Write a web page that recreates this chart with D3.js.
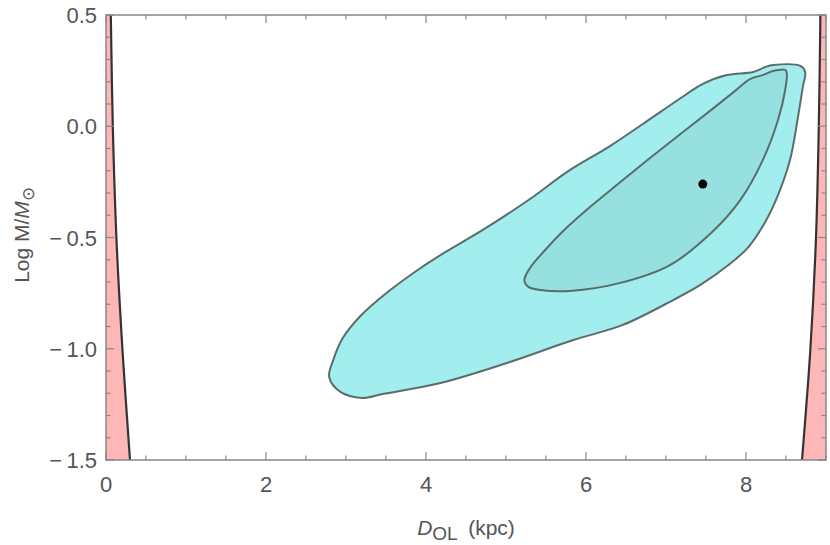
<!DOCTYPE html>
<html>
<head>
<meta charset="utf-8">
<script src="https://cdn.jsdelivr.net/npm/d3@7"></script>
<style>
  body { margin: 0; background: #fff; }
  text { font-family: "Liberation Sans", Arial, sans-serif; fill: #555; }
</style>
</head>
<body>
<svg id="chart" width="830" height="545"></svg>
<script>
// data
// excluded regions (pink): boundary D_OL at given log M
const edgeLogM   = [0.5, 0.0, -0.5, -1.0, -1.5];
const leftEdgeD  = [0.06, 0.085, 0.13, 0.205, 0.30];
const rightEdgeD = [8.93, 8.91, 8.875, 8.805, 8.70];

// outer (2 sigma) contour
const outerD    = [2.79, 2.84, 2.96, 3.18, 3.49, 3.86, 4.18, 4.71, 5.30, 5.76, 6.30, 6.71, 7.26, 7.46, 7.76, 8.09, 8.24, 8.34, 8.68, 8.74, 8.71, 8.65, 8.55, 8.40, 8.24, 8.03, 7.78, 7.43, 7.09, 6.46, 5.84, 5.01, 4.18, 3.46, 3.20, 2.93];
const outerLogM = [-1.127, -1.051, -0.952, -0.853, -0.754, -0.655, -0.579, -0.466, -0.327, -0.206, -0.089, 0.010, 0.145, 0.190, 0.230, 0.244, 0.266, 0.275, 0.271, 0.244, 0.176, 0.042, -0.152, -0.309, -0.430, -0.543, -0.624, -0.713, -0.781, -0.893, -0.961, -1.064, -1.154, -1.203, -1.221, -1.194];

// inner (1 sigma) contour
const innerD    = [5.23, 5.30, 5.49, 5.74, 6.05, 6.43, 6.80, 7.18, 7.55, 7.86, 8.05, 8.21, 8.34, 8.49, 8.51, 8.49, 8.40, 8.21, 7.93, 7.59, 7.05, 6.43, 5.80, 5.43, 5.28];
const innerLogM = [-0.691, -0.637, -0.556, -0.462, -0.363, -0.251, -0.143, -0.035, 0.069, 0.158, 0.212, 0.230, 0.248, 0.253, 0.239, 0.163, 0.028, -0.152, -0.331, -0.471, -0.624, -0.704, -0.740, -0.736, -0.722];

// best fit
const bestD = 7.46;
const bestLogM = -0.26;

const xTicks = [0, 2, 4, 6, 8];
const yTicks = [-1.5, -1.0, -0.5, 0.0, 0.5];

const svg = d3.select('#chart');
const margin = {left: 106, right: 4, top: 15, bottom: 85};
const W = 830, H = 545;

const x = d3.scaleLinear().domain([0, 9]).range([margin.left, W - margin.right]);
const y = d3.scaleLinear().domain([-1.5, 0.5]).range([H - margin.bottom, margin.top]);

svg.append('clipPath').attr('id', 'plotclip')
  .append('rect')
  .attr('x', x(0)).attr('y', y(0.5))
  .attr('width', x(9) - x(0)).attr('height', y(-1.5) - y(0.5));

const plot = svg.append('g').attr('clip-path', 'url(#plotclip)');

// pink excluded regions
const leftPts = leftEdgeD.map((d, i) => ({D: d, m: edgeLogM[i]}));
const rightPts = rightEdgeD.map((d, i) => ({D: d, m: edgeLogM[i]}));

plot.append('path')
  .datum(leftPts)
  .attr('fill', '#ffb6b6')
  .attr('d', d3.area().curve(d3.curveCatmullRom)
    .y(d => y(d.m)).x0(x(0) - 2).x1(d => x(d.D)));
plot.append('path')
  .datum(rightPts)
  .attr('fill', '#ffb6b6')
  .attr('d', d3.area().curve(d3.curveCatmullRom)
    .y(d => y(d.m)).x0(d => x(d.D)).x1(x(9) + 2));

const edgeLine = d3.line().curve(d3.curveCatmullRom).x(d => x(d.D)).y(d => y(d.m));
[leftPts, rightPts].forEach(pts => {
  plot.append('path')
    .datum(pts)
    .attr('fill', 'none')
    .attr('stroke', '#333')
    .attr('stroke-width', 2.2)
    .attr('d', edgeLine);
});

// contours
const contour = d3.line().curve(d3.curveCatmullRomClosed.alpha(0.5))
  .x(d => x(d.D)).y(d => y(d.m));

const outerPts = outerD.map((d, i) => ({D: d, m: outerLogM[i]}));
const innerPts = innerD.map((d, i) => ({D: d, m: innerLogM[i]}));

plot.append('path')
  .datum(outerPts)
  .attr('fill', '#a2eeee')
  .attr('stroke', '#5b6c6c')
  .attr('stroke-width', 2)
  .attr('stroke-linejoin', 'round')
  .attr('d', contour);

plot.append('path')
  .datum(innerPts)
  .attr('fill', '#96e0e0')
  .attr('stroke', '#5b6c6c')
  .attr('stroke-width', 2)
  .attr('stroke-linejoin', 'round')
  .attr('d', contour);

plot.append('circle')
  .attr('cx', x(bestD)).attr('cy', y(bestLogM))
  .attr('r', 4.5)
  .attr('fill', '#000');

// frame and ticks
const axisColor = '#888';
const frame = svg.append('g');
frame.append('rect')
  .attr('x', x(0)).attr('y', y(0.5))
  .attr('width', x(9) - x(0)).attr('height', y(-1.5) - y(0.5))
  .attr('fill', 'none').attr('stroke', axisColor).attr('stroke-width', 1.5);

const xMinor = d3.range(0, 9.001, 0.5);
const yMinor = d3.range(-1.5, 0.5001, 0.1);

xMinor.forEach(v => {
  const major = xTicks.some(t => Math.abs(t - v) < 1e-6);
  const len = major ? 8 : 4.5;
  frame.append('line').attr('x1', x(v)).attr('x2', x(v))
    .attr('y1', y(-1.5)).attr('y2', y(-1.5) - len)
    .attr('stroke', axisColor).attr('stroke-width', 1.2);
  frame.append('line').attr('x1', x(v)).attr('x2', x(v))
    .attr('y1', y(0.5)).attr('y2', y(0.5) + len)
    .attr('stroke', axisColor).attr('stroke-width', 1.2);
});
yMinor.forEach(v => {
  const major = yTicks.some(t => Math.abs(t - v) < 1e-6);
  const len = major ? 8 : 4.5;
  frame.append('line').attr('y1', y(v)).attr('y2', y(v))
    .attr('x1', x(0)).attr('x2', x(0) + len)
    .attr('stroke', axisColor).attr('stroke-width', 1.2);
  frame.append('line').attr('y1', y(v)).attr('y2', y(v))
    .attr('x1', x(9)).attr('x2', x(9) - len)
    .attr('stroke', axisColor).attr('stroke-width', 1.2);
});

// tick labels
svg.append('g').selectAll('text').data(xTicks).join('text')
  .attr('x', d => x(d)).attr('y', 492)
  .attr('text-anchor', 'middle')
  .style('font-size', '22px')
  .text(d => d3.format('d')(d));

svg.append('g').selectAll('text').data(yTicks).join('text')
  .attr('x', 97).attr('y', d => y(d) + 8)
  .attr('text-anchor', 'end')
  .style('font-size', '22px')
  .text(d => (d < 0 ? '\u2212\u2009' : '') + d3.format('.1f')(Math.abs(d)));

// axis titles
const xt = svg.append('text')
  .attr('x', 466).attr('y', 535)
  .attr('text-anchor', 'middle')
  .style('font-size', '21px');
xt.append('tspan').style('font-style', 'italic').text('D');
xt.append('tspan').attr('dy', 5).style('font-size', '19px').text('OL');
xt.append('tspan').attr('dy', -5).text('\u2002(kpc)');

const yt = svg.append('text')
  .attr('transform', 'translate(29,235) rotate(-90)')
  .attr('text-anchor', 'middle')
  .style('font-size', '21px');
yt.append('tspan').text('Log M/');
yt.append('tspan').style('font-style', 'italic').text('M');
yt.append('tspan').attr('dy', 5).style('font-size', '17px').text('\u2299');
</script>
</body>
</html>
